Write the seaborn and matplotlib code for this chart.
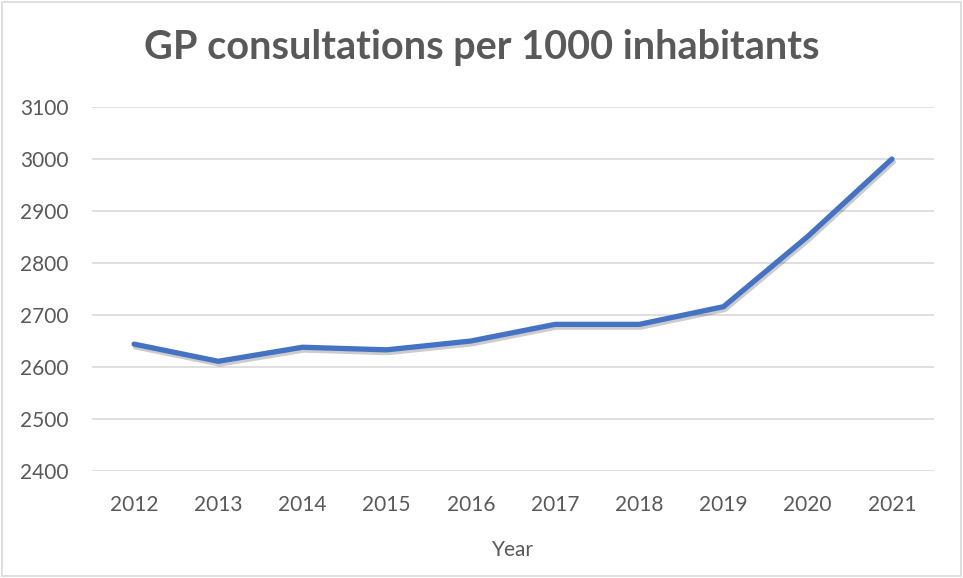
import matplotlib
matplotlib.use("Agg")
import matplotlib.pyplot as plt
import matplotlib.patheffects as pe
from matplotlib.patches import Rectangle
import seaborn as sns
import pandas as pd

# --- 数据 ---
years = ["2012", "2013", "2014", "2015", "2016", "2017", "2018", "2019", "2020", "2021"]
consultations = [2644, 2611, 2638, 2633, 2650, 2682, 2682, 2716, 2851, 3000]
y_ticks = [2400, 2500, 2600, 2700, 2800, 2900, 3000, 3100]

TEXT_GREY = "#595959"
GRID_GREY = "#D9D9D9"
LINE_BLUE = "#4472C4"

sns.set_theme(style="white")
plt.rcParams["font.family"] = ["Lato", "DejaVu Sans"]

df = pd.DataFrame({"Year": years, "Value": consultations})

fig = plt.figure(figsize=(9.63, 5.78), dpi=100)
ax = fig.add_axes([92 / 963, (578 - 471) / 578, (934 - 92) / 963, (471 - 107) / 578])

# gridlines first so the line sits on top
for t in y_ticks:
    ax.axhline(t, color=GRID_GREY, lw=1.2, zorder=0)

sns.lineplot(data=df, x="Year", y="Value", ax=ax, color=LINE_BLUE, linewidth=3.8,
             solid_capstyle="round", solid_joinstyle="round", sort=False,
             path_effects=[pe.SimpleLineShadow(offset=(1, -2), alpha=0.2, shadow_color="black"),
                           pe.Normal()])

ax.set_xlim(-0.5, len(years) - 0.5)
ax.set_ylim(2400, 3100)
ax.set_yticks(y_ticks)
ax.set_yticklabels([str(t) for t in y_ticks])
ax.tick_params(axis="both", length=0, labelsize=15, labelcolor=TEXT_GREY)
ax.tick_params(axis="y", pad=17)
ax.tick_params(axis="x", pad=17)
for s in ax.spines.values():
    s.set_visible(False)

ax.set_xlabel("Year", fontsize=15, color=TEXT_GREY, labelpad=18)
ax.set_ylabel("")

fig.text(0.5, 1 - 48 / 578, "GP consultations per 1000 inhabitants", ha="center", va="center",
         fontsize=28.5, fontweight="bold", color=TEXT_GREY)

# 外框
fig.patches.append(Rectangle((2 / 963, 2 / 578), 959 / 963, 574 / 578, transform=fig.transFigure,
                             fill=False, edgecolor=GRID_GREY, lw=1.2))

fig.savefig("out.png", dpi=100)
